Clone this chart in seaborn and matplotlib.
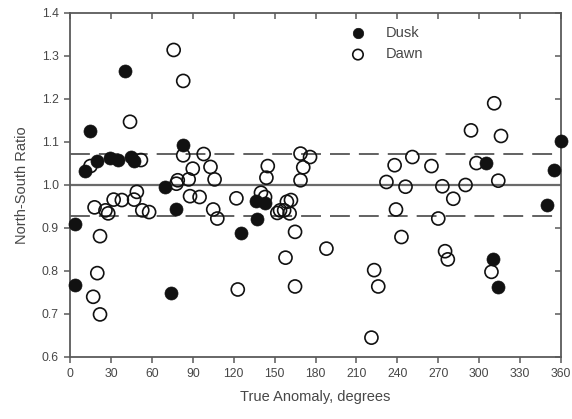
import matplotlib
matplotlib.use("Agg")
import matplotlib.pyplot as plt
import seaborn as sns
import pandas as pd

# True anomaly (degrees) and north-south ratio, dusk passes
dusk_anomaly = [4, 4, 11, 15, 20, 29, 35, 40, 45, 47, 70, 74, 78, 83,
                125, 136, 137, 143, 305, 310, 314, 350, 355, 360]
dusk_ratio = [0.909, 0.767, 1.032, 1.125, 1.056, 1.062, 1.058, 1.265, 1.064, 1.055,
              0.995, 0.748, 0.944, 1.092, 0.889, 0.962, 0.920, 0.957, 1.051, 0.827,
              0.763, 0.953, 1.036, 1.102]

# True anomaly (degrees) and north-south ratio, dawn passes
dawn_anomaly = [15, 17, 18, 20, 22, 22, 26, 28, 32, 38, 44, 47, 49, 52, 53, 58,
                76, 78, 79, 83, 83, 87, 88, 90, 95, 98, 103, 105, 106, 108,
                122, 123, 140, 143, 144, 145, 152, 154, 157, 158, 159, 161, 162,
                165, 165, 169, 169, 171, 176, 188, 221, 223, 226, 232, 238, 239,
                243, 246, 251, 265, 270, 273, 275, 277, 281, 290, 294, 298, 309,
                311, 314, 316]
dawn_ratio = [1.044, 0.740, 0.948, 0.795, 0.881, 0.699, 0.941, 0.934, 0.966, 0.965,
              1.147, 0.966, 0.984, 1.058, 0.941, 0.937,
              1.314, 1.003, 1.011, 1.242, 1.069, 1.013, 0.974, 1.038, 0.972, 1.072,
              1.042, 0.943, 1.013, 0.922,
              0.969, 0.757, 0.982, 0.972, 1.017, 1.044, 0.935, 0.941, 0.941, 0.831,
              0.961, 0.934, 0.965, 0.891, 0.764, 1.073, 1.011, 1.041, 1.065, 0.852,
              0.645, 0.802, 0.764, 1.007, 1.046, 0.943, 0.879, 0.996, 1.065, 1.044,
              0.922, 0.997, 0.846, 0.827, 0.968, 1.000, 1.127, 1.051, 0.798, 1.190,
              1.010, 1.114]

x_ticks = list(range(0, 361, 30))
y_ticks = [0.6, 0.7, 0.8, 0.9, 1.0, 1.1, 1.2, 1.3, 1.4]
mean_line = 1.0
band_lines = [1.072, 0.928]

dusk = pd.DataFrame({"anomaly": dusk_anomaly, "ratio": dusk_ratio})
dawn = pd.DataFrame({"anomaly": dawn_anomaly, "ratio": dawn_ratio})

sns.set_theme(style="ticks")
plt.rcParams["font.family"] = ["Liberation Sans", "DejaVu Sans"]

text_col = "#474747"
axis_col = "#5a5a5a"

fig = plt.figure(figsize=(5.72, 4.19), dpi=100)
ax = fig.add_axes([0.1224, 0.148, 0.8584, 0.821])

ax.axhline(mean_line, color="#6a6a6a", lw=1.6, zorder=1)
for yv in band_lines:
    ax.axhline(yv, color="#555555", lw=1.3, dashes=(11, 5), zorder=1)

sns.scatterplot(data=dawn, x="anomaly", y="ratio", ax=ax, marker="o", s=88,
                facecolor="none", edgecolor="#111111", linewidth=1.2,
                label="Dawn", zorder=3, clip_on=False)
sns.scatterplot(data=dusk, x="anomaly", y="ratio", ax=ax, marker="o", s=88,
                color="#111111", edgecolor="#111111", linewidth=0.5,
                label="Dusk", zorder=4, clip_on=False)

ax.set_xlim(0, 360)
ax.set_ylim(0.6, 1.4)
ax.set_xticks(x_ticks)
ax.set_yticks(y_ticks)
ax.set_xticklabels([str(v) for v in x_ticks])
ax.set_yticklabels([f"{v:.1f}" for v in y_ticks])

for side in ["left", "bottom", "top", "right"]:
    ax.spines[side].set_visible(True)
    ax.spines[side].set_color(axis_col)
    ax.spines[side].set_linewidth(1.3)

ax.tick_params(axis="both", which="major", direction="out", length=4, width=1.1,
               color=axis_col, labelsize=8.8, labelcolor=text_col, pad=4)

# inward ticks along the top and right edges
top = ax.secondary_xaxis("top")
top.set_xticks(x_ticks)
top.tick_params(direction="in", length=4, width=1.1, color=axis_col, labeltop=False)
top.spines["top"].set_visible(False)
right = ax.secondary_yaxis("right")
right.set_yticks(y_ticks)
right.tick_params(direction="in", length=4, width=1.1, color=axis_col, labelright=False)
right.spines["right"].set_visible(False)

ax.set_xlabel("True Anomaly, degrees", fontsize=10.5, color=text_col, labelpad=7)
ax.set_ylabel("North-South Ratio", fontsize=10.5, color=text_col, labelpad=9)

handles, labels = ax.get_legend_handles_labels()
order = [labels.index("Dusk"), labels.index("Dawn")]
ax.legend([handles[i] for i in order], [labels[i] for i in order],
          loc="upper left", bbox_to_anchor=(0.53, 1.0), frameon=False,
          fontsize=10.5, labelcolor=text_col, handletextpad=0.9,
          labelspacing=0.5, markerscale=0.8)

fig.savefig("out.png", dpi=100)
